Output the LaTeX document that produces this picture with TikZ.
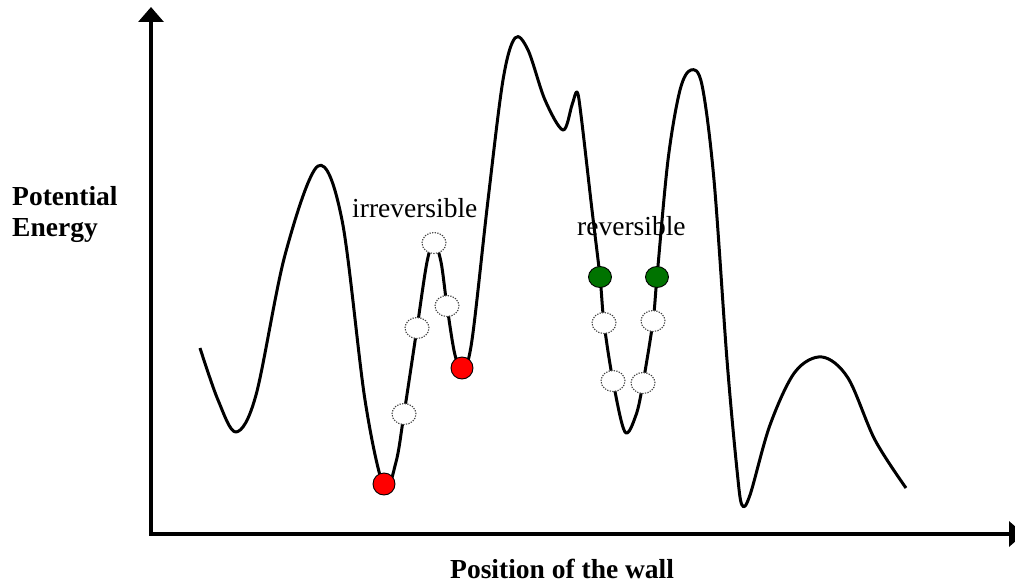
\documentclass[tikz,border=0pt]{standalone}
\usepackage{fontspec}
\setmainfont{Liberation Serif}
\usetikzlibrary{arrows.meta,shapes.geometric}
\tikzset{
  axis/.style={line width=3.4pt,-{Triangle[width=25pt,length=15pt]}},
  energy/.style={line width=3pt,line join=round},
  redball/.style={circle,draw=black,line width=0.9pt,fill=red,minimum size=22pt,inner sep=0pt},
  greenball/.style={ellipse,draw=black,line width=0.9pt,fill=green!45!black,minimum width=23pt,minimum height=21pt,inner sep=0pt},
  ghost/.style={ellipse,draw=black!75,dash pattern=on 1.3pt off 1.3pt,line width=1.1pt,fill=white,minimum width=24pt,minimum height=21pt,inner sep=0pt},
  lbl/.style={font=\fontsize{27.5}{31}\selectfont,inner sep=0pt,anchor=base west},
  blbl/.style={font=\fontsize{27.5}{31}\selectfont\bfseries,inner sep=0pt,anchor=base west,align=left}
}
\begin{document}
\begin{tikzpicture}[x=1pt,y=-1pt]
\useasboundingbox (0,0) rectangle (1015,586);
% axes
\coordinate (origin) at (151,534);
\coordinate (ytop) at (151,7);
\coordinate (xend) at (1024,534);
\draw[axis] (origin) -- (ytop);
\draw[axis] ([xshift=-1.7pt]origin) -- (xend);
% energy curve
\draw[energy] plot[smooth,tension=0.55] coordinates {
 (200,348) (218,400) (236,432) (256,395) (285,255) (318,166) (342,220) (365,400) (384,487)
 (396,462) (404,414) (417,328) (427,262) (434,243) (441,262) (447,306) (455,355) (463,370)
 (472,340) (488,200) (503,80) (515,38) (528,50) (545,100) (563,130) (572,105) (577,92)
 (581,115) (592,210) (600,277) (604,323) (613,381) (625,432) (636,415) (643,383) (653,321)
 (657,277) (668,160) (680,90) (691,70) (702,85) (714,180) (727,360) (737,470) (742,505)
 (750,495) (770,425) (795,372) (822,357) (848,378) (875,440) (906,488)};
% balls
\node[ghost] (g1) at (434,243) {};
\node[ghost] (g2) at (417,328) {};
\node[ghost] (g3) at (447,306) {};
\node[ghost] (g4) at (404,414) {};
\node[redball] (r1) at (384,484) {};
\node[redball] (r2) at (462,368) {};
\node[ghost] (g5) at (604,323) {};
\node[ghost] (g6) at (653,321) {};
\node[ghost] (g7) at (613,381) {};
\node[ghost] (g8) at (643,383) {};
\node[greenball] (gr1) at (600,277) {};
\node[greenball] (gr2) at (657,277) {};
% labels
\node[lbl] (irr) at (352,217) {irreversible};
\node[lbl] (rev) at (577,235) {reversible};
\node[blbl] (pe) at (12,236) {Potential\\Energy};
\node[blbl] (pw) at (450,578) {Position of the wall};
\end{tikzpicture}
\end{document}
